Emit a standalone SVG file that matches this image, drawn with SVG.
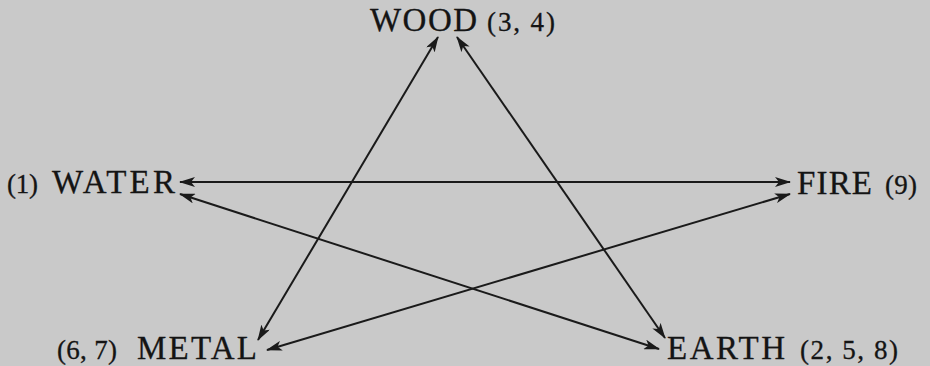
<svg xmlns="http://www.w3.org/2000/svg" width="930" height="366" viewBox="0 0 930 366">
<style>
.bg{fill:#c9c9c9}
.lbl{font-family:"Liberation Serif","Times New Roman",serif;fill:#141414;stroke:#141414;stroke-width:0.3}
.big{font-size:33px}
.num{font-size:27px}
.con line{stroke:#1a1a1a;stroke-width:2;marker-start:url(#ah);marker-end:url(#ah)}
</style>
<defs>
<marker id="ah" viewBox="0 0 16 10" refX="15" refY="5" markerWidth="16" markerHeight="10" markerUnits="userSpaceOnUse" orient="auto-start-reverse">
<path d="M0,0 L16,5 L0,10 L4,5 z" fill="#1a1a1a"/>
</marker>
</defs>
<rect class="bg" width="930" height="366"/>
<g id="connectors" class="con">
<line x1="180" y1="182" x2="790" y2="182"/>
<line x1="180" y1="194" x2="659" y2="349"/>
<line x1="790" y1="194" x2="267" y2="350"/>
<line x1="438" y1="37" x2="258" y2="340"/>
<line x1="457" y1="37" x2="665" y2="338"/>
</g>
<g id="wood" class="lbl">
<text class="big" x="370" y="31" textLength="107" lengthAdjust="spacing">WOOD</text>
<text class="num" x="487" y="31" textLength="68" lengthAdjust="spacing">(3, 4)</text>
</g>
<g id="water" class="lbl">
<text class="num" x="7" y="193" textLength="31" lengthAdjust="spacing">(1)</text>
<text class="big" x="52" y="193" textLength="123" lengthAdjust="spacing">WATER</text>
</g>
<g id="fire" class="lbl">
<text class="big" x="797" y="194" textLength="75" lengthAdjust="spacing">FIRE</text>
<text class="num" x="885" y="194" textLength="32" lengthAdjust="spacing">(9)</text>
</g>
<g id="metal" class="lbl">
<text class="num" x="57" y="359" textLength="60" lengthAdjust="spacing">(6, 7)</text>
<text class="big" x="137" y="359" textLength="120" lengthAdjust="spacing">METAL</text>
</g>
<g id="earth" class="lbl">
<text class="big" x="667" y="359" textLength="118" lengthAdjust="spacing">EARTH</text>
<text class="num" x="800" y="359" textLength="98" lengthAdjust="spacing">(2, 5, 8)</text>
</g>
</svg>
